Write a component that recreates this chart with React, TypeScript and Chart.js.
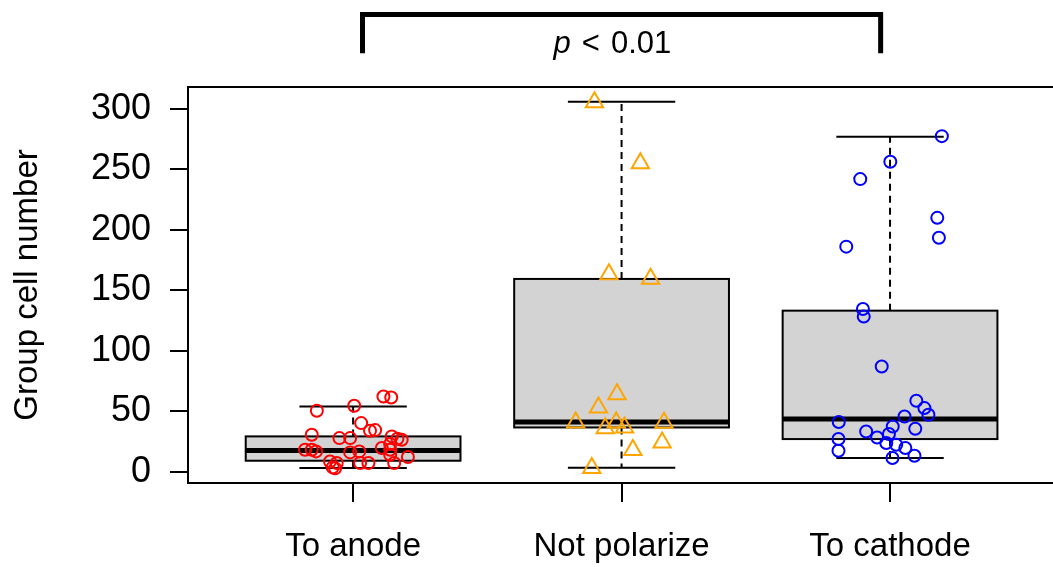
import React, { useEffect, useRef } from "react";
import { Chart, registerables } from "chart.js";

Chart.register(...registerables);

const FONT = '"Liberation Sans", Arial, Helvetica, sans-serif';

const CATEGORIES = ["To anode", "Not polarize", "To cathode"];
const Y_TICKS = [0, 50, 100, 150, 200, 250, 300];
const X_TICKS = [1, 2, 3];

// box statistics
const BOX_LOW = [3.3, 3.5, 11.5];
const BOX_Q1 = [9.3, 36.8, 27.2];
const BOX_MEDIAN = [17.8, 41.2, 43.7];
const BOX_Q3 = [29.4, 159.5, 133.3];
const BOX_HIGH = [54.1, 306, 276.9];

// jittered points
const ANODE_X = [
  1.113, 1.142, 0.865, 1.004, 1.03, 1.063, 1.082, 0.846, 0.949, 0.989,
  1.144, 1.165, 1.181, 1.138, 0.821, 0.846, 0.862, 0.989, 1.023, 1.107,
  1.138, 1.138, 1.204, 0.914, 0.939, 0.924, 0.933, 1.026, 1.057, 1.153,
];
const ANODE_Y = [
  62.4, 61.6, 50.6, 54.7, 40.4, 34.1, 34.6, 30.8, 28, 28,
  29.4, 27.5, 26.6, 23.1, 18.4, 18.4, 17, 16.2, 17, 19.8,
  18.4, 14.3, 12.4, 8.7, 7.4, 3.8, 3.0, 7.4, 7.4, 7.4,
];
const NOTPOL_X = [
  1.899, 2.07, 1.953, 2.108, 1.983, 1.914, 1.829, 1.98, 1.939, 2.011,
  2.158, 2.151, 2.042, 1.889,
];
const NOTPOL_Y = [
  305.6, 255.2, 163.3, 159.7, 64.3, 53.2, 40.9, 40.9, 36.2, 36.8,
  40.6, 24.3, 18.1, 3.3,
];
const CATHODE_X = [
  3.193, 3.001, 2.889, 3.176, 3.182, 2.837, 2.899, 2.902, 2.969, 3.098,
  3.128, 3.143, 3.054, 2.809, 3.01, 3.094, 2.911, 2.952, 2.996, 2.808,
  2.986, 3.023, 3.057, 2.808, 3.009, 3.091,
];
const CATHODE_Y = [
  277.5, 256.3, 242, 210, 193.6, 186.2, 134.7, 128.4, 87.1, 58.8,
  52.8, 47.3, 45.9, 41.3, 37.6, 35.7, 33.5, 28.5, 31.4, 27.2,
  23.9, 22.5, 19.8, 17.6, 11.5, 13.4,
];

const Y_TITLE = "Group cell number";
const P_ITALIC = "p";
const P_REST_OP = "<";
const P_REST_NUM = "0.01";
const BRACKET_X = [1.035, 2.965];
const BRACKET_Y = [378, 346];
const P_TEXT_X = 1.966;

const pts = (xs: number[], ys: number[]) => xs.map((x, i) => ({ x, y: ys[i] }));

const boxPlugin = {
  id: "boxes",
  beforeDatasetsDraw(chart: any) {
    const { ctx } = chart;
    const x = chart.scales.x;
    const y = chart.scales.y;
    ctx.save();
    for (let i = 0; i < CATEGORIES.length; i++) {
      const c = i + 1;
      const l = x.getPixelForValue(c - 0.4);
      const r = x.getPixelForValue(c + 0.4);
      const cl = x.getPixelForValue(c - 0.2);
      const cr = x.getPixelForValue(c + 0.2);
      const cx = x.getPixelForValue(c);
      const yLow = y.getPixelForValue(BOX_LOW[i]);
      const yQ1 = y.getPixelForValue(BOX_Q1[i]);
      const yMed = y.getPixelForValue(BOX_MEDIAN[i]);
      const yQ3 = y.getPixelForValue(BOX_Q3[i]);
      const yHigh = y.getPixelForValue(BOX_HIGH[i]);
      ctx.strokeStyle = "#000";
      ctx.lineWidth = 2;
      ctx.setLineDash([7, 5]);
      ctx.beginPath();
      ctx.moveTo(cx, yQ3);
      ctx.lineTo(cx, yHigh);
      ctx.moveTo(cx, yQ1);
      ctx.lineTo(cx, yLow);
      ctx.stroke();
      ctx.setLineDash([]);
      ctx.beginPath();
      ctx.moveTo(cl, yHigh);
      ctx.lineTo(cr, yHigh);
      ctx.moveTo(cl, yLow);
      ctx.lineTo(cr, yLow);
      ctx.stroke();
      ctx.fillStyle = "#D3D3D3";
      ctx.fillRect(l, yQ3, r - l, yQ1 - yQ3);
      ctx.lineWidth = 2;
      ctx.strokeRect(l, yQ3, r - l, yQ1 - yQ3);
      ctx.lineWidth = 5;
      ctx.beginPath();
      ctx.moveTo(l, yMed);
      ctx.lineTo(r, yMed);
      ctx.stroke();
    }
    ctx.restore();
  },
  afterDatasetsDraw(chart: any) {
    const { ctx, chartArea } = chart;
    ctx.save();
    ctx.strokeStyle = "#000";
    ctx.lineWidth = 2;
    // frame: the right side of the original box lies just beyond the picture
    ctx.beginPath();
    ctx.moveTo(chartArea.right + 4, chartArea.top);
    ctx.lineTo(chartArea.left, chartArea.top);
    ctx.lineTo(chartArea.left, chartArea.bottom);
    ctx.lineTo(chartArea.right + 4, chartArea.bottom);
    ctx.stroke();
    ctx.restore();
  },
  afterDraw(chart: any) {
    const { ctx } = chart;
    const x = chart.scales.x;
    const y = chart.scales.y;
    ctx.save();
    const bl = x.getPixelForValue(BRACKET_X[0]);
    const br = x.getPixelForValue(BRACKET_X[1]);
    const bt = y.getPixelForValue(BRACKET_Y[0]);
    const bb = y.getPixelForValue(BRACKET_Y[1]);
    ctx.strokeStyle = "#000";
    ctx.lineWidth = 5;
    ctx.lineJoin = "miter";
    ctx.beginPath();
    ctx.moveTo(bl, bb);
    ctx.lineTo(bl, bt);
    ctx.lineTo(br, bt);
    ctx.lineTo(br, bb);
    ctx.stroke();

    const size = 31;
    const gap = 11;
    ctx.fillStyle = "#000";
    ctx.textBaseline = "alphabetic";
    ctx.textAlign = "left";
    ctx.font = `italic ${size}px ${FONT}`;
    const wp = ctx.measureText(P_ITALIC).width;
    ctx.font = `${size}px ${FONT}`;
    const wo = ctx.measureText(P_REST_OP).width;
    const wn = ctx.measureText(P_REST_NUM).width;
    const total = wp + gap + wo + gap + wn;
    const cx = x.getPixelForValue(P_TEXT_X);
    const base = y.getPixelForValue(BRACKET_Y[1]);
    let px = cx - total / 2;
    ctx.font = `italic ${size}px ${FONT}`;
    ctx.fillText(P_ITALIC, px, base);
    px += wp + gap;
    ctx.font = `${size}px ${FONT}`;
    ctx.fillText(P_REST_OP, px, base);
    px += wo + gap;
    ctx.fillText(P_REST_NUM, px, base);
    ctx.restore();
  },
};

export default function App() {
  const ref = useRef<HTMLCanvasElement | null>(null);
  useEffect(() => {
    if (!ref.current) return;
    const chart = new Chart(ref.current, {
      type: "scatter",
      data: {
        datasets: [
          {
            label: CATEGORIES[0],
            data: pts(ANODE_X, ANODE_Y),
            pointStyle: "circle",
            pointRadius: 6,
            borderWidth: 2,
            borderColor: "#FF0000",
            backgroundColor: "rgba(0,0,0,0)",
          },
          {
            label: CATEGORIES[1],
            data: pts(NOTPOL_X, NOTPOL_Y),
            pointStyle: "triangle",
            pointRadius: 10,
            borderWidth: 2,
            borderColor: "#FFA500",
            backgroundColor: "rgba(0,0,0,0)",
          },
          {
            label: CATEGORIES[2],
            data: pts(CATHODE_X, CATHODE_Y),
            pointStyle: "circle",
            pointRadius: 6,
            borderWidth: 2,
            borderColor: "#0000FF",
            backgroundColor: "rgba(0,0,0,0)",
          },
        ],
      },
      options: {
        responsive: false,
        animation: false,
        events: [],
        layout: { autoPadding: false, padding: { top: 87, left: 0, right: 0, bottom: 0 } },
        plugins: {
          legend: { display: false },
          tooltip: { enabled: false },
        },
        scales: {
          x: {
            type: "linear",
            min: 0.385,
            max: 3.607,
            afterBuildTicks: (s: any) => {
              s.ticks = X_TICKS.map((v) => ({ value: v }));
            },
            afterFit: (s: any) => {
              s.height = 84;
              s.paddingLeft = 0;
              s.paddingRight = 0;
            },
            border: { display: false },
            grid: {
              drawOnChartArea: false,
              drawTicks: true,
              tickLength: 19,
              tickWidth: 2,
              tickColor: "#000",
              color: "#000",
              lineWidth: 2,
            },
            ticks: {
              autoSkip: false,
              maxRotation: 0,
              minRotation: 0,
              padding: 25,
              color: "#000",
              font: { size: 33, family: FONT },
              callback: (v: any) => CATEGORIES[Math.round(Number(v)) - 1] ?? "",
            },
          },
          y: {
            type: "linear",
            min: -9.1,
            max: 318.1,
            afterBuildTicks: (s: any) => {
              s.ticks = Y_TICKS.map((v) => ({ value: v }));
            },
            afterFit: (s: any) => {
              s.width = 188;
              s.paddingTop = 0;
              s.paddingBottom = 0;
            },
            border: { display: false },
            grid: {
              drawOnChartArea: false,
              drawTicks: true,
              tickLength: 18,
              tickWidth: 2,
              tickColor: "#000",
              color: "#000",
              lineWidth: 2,
            },
            ticks: {
              padding: 19,
              color: "#000",
              font: { size: 36, family: FONT },
              callback: (v: any) => String(v),
            },
            title: {
              display: true,
              text: Y_TITLE,
              color: "#000",
              font: { size: 33, family: FONT },
              padding: { top: 8, bottom: 0 },
            },
          },
        },
      },
      plugins: [boxPlugin],
    } as any);
    return () => chart.destroy();
  }, []);
  return (
    <div style={{ position: "absolute", left: 0, top: 0, width: 1053, height: 567, background: "#fff" }}>
      <canvas ref={ref} width={1053} height={567} style={{ display: "block" }} />
    </div>
  );
}
